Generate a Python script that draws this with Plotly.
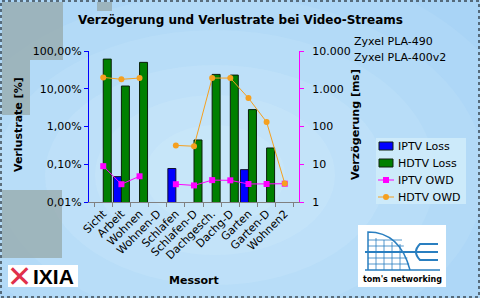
import plotly.graph_objects as go

categories = ["Sicht", "Arbeit", "Wohnen", "Wohnen-D", "Schlafen", "Schlafen-D",
              "Dachgesch.", "Dachg-D", "Garten", "Garten-D", "Wohnen2"]
iptv_loss = [None, 0.047, None, None, 0.077, None, None, None, 0.072, None, None]
hdtv_loss = [61, 11.8, 50, None, None, 0.44, 24, 23, 2.8, 0.27, None]
iptv_owd = [8.9, 2.96, 4.8, None, 2.96, 2.75, 3.8, 3.75, 3.0, 3.0, 3.05]
hdtv_owd = [2000, 1780, 1920, None, 31.6, 30, 1920, 1920, 566, 131, 3.1]

left_tickvals = [0.01, 0.1, 1, 10, 100]
left_ticktext = ["0,01%", "0,10%", "1,00%", "10,00%", "100,00%"]
right_tickvals = [1, 10, 100, 1000, 10000]
right_ticktext = ["1", "10", "100", "1.000", "10.000"]

series_names = ["IPTV Loss", "HDTV Loss", "IPTV OWD", "HDTV OWD"]
series_colors = ["#0000ff", "#008000", "#ff00ff", "#f5a020"]

W, H = 480, 298
L, R, T, B = 89, 299, 51, 202

def px(x):
    return (x - L) / (R - L)

def py(y):
    return (B - y) / (B - T)

FONT = "DejaVu Sans"

fig = go.Figure()
fig.add_trace(go.Bar(x=categories, y=iptv_loss, name=series_names[0],
                     marker=dict(color=series_colors[0], line=dict(color="#101030", width=1))))
fig.add_trace(go.Bar(x=categories, y=hdtv_loss, name=series_names[1],
                     marker=dict(color=series_colors[1], line=dict(color="#0a200a", width=1))))
fig.add_trace(go.Scatter(x=categories, y=iptv_owd, name=series_names[2], yaxis="y2",
                         mode="lines+markers", connectgaps=False,
                         line=dict(color=series_colors[2], width=1),
                         marker=dict(symbol="square", size=6, color=series_colors[2])))
fig.add_trace(go.Scatter(x=categories, y=hdtv_owd, name=series_names[3], yaxis="y2",
                         mode="lines+markers", connectgaps=False,
                         line=dict(color=series_colors[3], width=1),
                         marker=dict(symbol="circle", size=6, color=series_colors[3])))

shapes = []
# background soft gradient
for (rx, ry, op) in [(320, 220, 0.10), (270, 180, 0.10), (220, 145, 0.12),
                     (170, 110, 0.14), (120, 80, 0.14), (70, 50, 0.14)]:
    cx, cy = 215, 175
    shapes.append(dict(type="circle", xref="paper", yref="paper", layer="below",
                       x0=px(cx - rx), x1=px(cx + rx), y0=py(cy + ry), y1=py(cy - ry),
                       fillcolor=f"rgba(225,250,255,{op})", line=dict(width=0)))
# gray artifact blocks top-left
for (x0, y0, x1, y1) in [(2, 2, 63, 60), (2, 60, 30, 115), (2, 190, 62, 258), (97, 2, 112, 11)]:
    shapes.append(dict(type="rect", xref="paper", yref="paper", layer="below",
                       x0=px(x0), x1=px(x1), y0=py(y1), y1=py(y0),
                       fillcolor="rgba(150,168,170,0.75)", line=dict(width=0)))
# dashed border
shapes.append(dict(type="rect", xref="paper", yref="paper",
                   x0=px(1), x1=px(W - 1), y0=py(H - 1), y1=py(1),
                   line=dict(color="black", width=1, dash="dot")))
# legend box and symbols
shapes.append(dict(type="rect", xref="paper", yref="paper",
                   x0=px(376), x1=px(466), y0=py(204), y1=py(138),
                   fillcolor="rgba(208,236,250,0.85)", line=dict(width=0)))
leg_y = [146, 163, 180, 197]
for i in range(2):
    shapes.append(dict(type="rect", xref="paper", yref="paper",
                       x0=px(379), x1=px(393), y0=py(leg_y[i] + 4), y1=py(leg_y[i] - 4),
                       fillcolor=series_colors[i], line=dict(color="#102010", width=1)))
for i in range(2, 4):
    shapes.append(dict(type="line", xref="paper", yref="paper",
                       x0=px(378), x1=px(394), y0=py(leg_y[i]), y1=py(leg_y[i]),
                       line=dict(color=series_colors[i], width=1)))
shapes.append(dict(type="rect", xref="paper", yref="paper",
                   x0=px(383), x1=px(389), y0=py(leg_y[2] + 3), y1=py(leg_y[2] - 3),
                   fillcolor=series_colors[2], line=dict(width=0)))
shapes.append(dict(type="circle", xref="paper", yref="paper",
                   x0=px(383), x1=px(389), y0=py(leg_y[3] + 3), y1=py(leg_y[3] - 3),
                   fillcolor=series_colors[3], line=dict(width=0)))
# IXIA logo
shapes.append(dict(type="rect", xref="paper", yref="paper",
                   x0=px(8), x1=px(78), y0=py(287), y1=py(265),
                   fillcolor="white", line=dict(width=0)))
# tom's networking logo
shapes.append(dict(type="rect", xref="paper", yref="paper",
                   x0=px(358), x1=px(446), y0=py(287), y1=py(225),
                   fillcolor="white", line=dict(width=0)))
blue = "#2a7fc0"
shapes.append(dict(type="line", xref="paper", yref="paper",
                   x0=px(365), x1=px(438), y0=py(252), y1=py(252), line=dict(color=blue, width=2)))
shapes.append(dict(type="line", xref="paper", yref="paper",
                   x0=px(365), x1=px(440), y0=py(270), y1=py(270), line=dict(color=blue, width=1.5)))
shapes.append(dict(type="path", xref="paper", yref="paper",
                   path=f"M {px(368)},{py(270)} L {px(368)},{py(232)} Q {px(400)},{py(232)} {px(410)},{py(270)}",
                   line=dict(color=blue, width=1.5)))
for xx in [376, 384, 392, 400]:
    shapes.append(dict(type="line", xref="paper", yref="paper",
                       x0=px(xx), x1=px(xx), y0=py(270), y1=py(236 + (xx - 368) * 0.25),
                       line=dict(color=blue, width=0.8)))
for yy in [240, 246, 258, 264]:
    shapes.append(dict(type="line", xref="paper", yref="paper",
                       x0=px(368), x1=px(402 + (yy - 240) * 0.3), y0=py(yy), y1=py(yy),
                       line=dict(color=blue, width=0.8)))
shapes.append(dict(type="path", xref="paper", yref="paper",
                   path=f"M {px(438)},{py(244)} L {px(420)},{py(244)} Q {px(412)},{py(252)} {px(420)},{py(260)} L {px(438)},{py(260)}",
                   line=dict(color=blue, width=2)))

def ann(text, x, y, size=11, xanchor="center", angle=0, color="black", family=FONT):
    return dict(text=text, x=px(x), y=py(y), xref="paper", yref="paper", xanchor=xanchor,
                yanchor="middle", textangle=angle, showarrow=False,
                font=dict(size=size, color=color, family=family))

annotations = [
    ann("<b>Verzögerung und Verlustrate bei Video-Streams</b>", 240, 20, size=12),
    ann("Zyxel PLA-490", 352, 42, xanchor="left"),
    ann("Zyxel PLA-400v2", 352, 57, xanchor="left"),
    ann("<b>Verlustrate [%]</b>", 19, 125, angle=-90),
    ann("<b>Verzögerung [ms]</b>", 356, 125, angle=-90),
    ann("<b>Messort</b>", 194, 280),
    ann("<b>✕</b>", 19, 276, size=30, color="#e0304a"),
    ann("<b>IXIA</b>", 31, 276, size=21, xanchor="left", family="Liberation Sans"),
    ann("<b>tom's networking</b>", 402, 279, size=8),
]
for i, name in enumerate(series_names):
    annotations.append(ann(name, 396, leg_y[i], xanchor="left"))

fig.update_layout(
    width=W, height=H,
    margin=dict(l=L, r=W - R, t=T, b=H - B),
    paper_bgcolor="#a9d4f6",
    plot_bgcolor="rgba(0,0,0,0)",
    font=dict(family=FONT, size=11, color="black"),
    barmode="group", bargap=0.12, bargroupgap=0,
    showlegend=False,
    xaxis=dict(type="category", showgrid=False, showline=True, linecolor="#808080",
               ticks="outside", ticklen=4, tickcolor="#808080", tickson="boundaries",
               tickangle=-45, tickfont=dict(size=11)),
    yaxis=dict(type="log", range=[-2, 2], tickvals=left_tickvals, ticktext=left_ticktext,
               showgrid=False, showline=True, linecolor="#0000ff", linewidth=1,
               ticks="outside", ticklen=4, tickcolor="#0000ff", zeroline=False,
               tickfont=dict(size=11)),
    yaxis2=dict(type="log", range=[0, 4], overlaying="y", side="right",
                tickvals=right_tickvals, ticktext=right_ticktext,
                showgrid=False, showline=True, linecolor="#ff00ff", linewidth=1,
                ticks="outside", ticklen=4, tickcolor="#ff00ff", zeroline=False,
                ticklabelstandoff=6, tickfont=dict(size=11)),
    shapes=shapes, annotations=annotations,
)

fig.write_html("out.html")
